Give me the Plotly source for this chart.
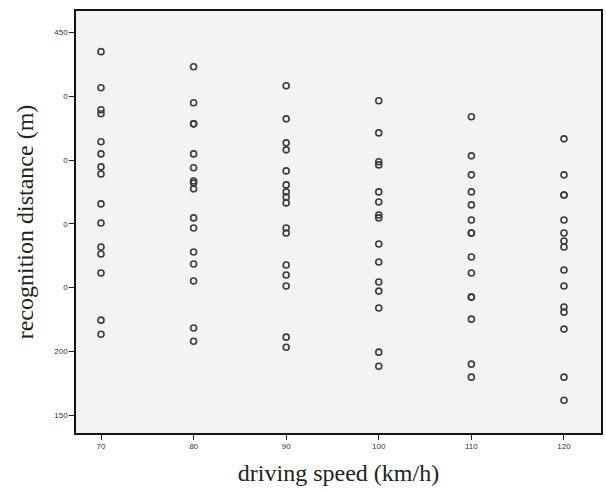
import plotly.graph_objects as go

# Driving speed groups (km/h)
speeds = [70, 80, 90, 100, 110, 120]

# Recognition distance (m) observed at each driving speed
dist_70 = [435.1, 406.8, 389.5, 386.4, 364.4, 354.9, 344.7, 339.2, 315.7,
           300.7, 281.9, 276.4, 261.5, 224.5, 213.5]
dist_80 = [423.3, 395.0, 378.5, 378.5, 354.9, 344.0, 333.7, 332.0, 327.5,
           304.7, 296.8, 278.0, 268.5, 255.2, 218.3, 208.0]
dist_90 = [408.4, 382.4, 363.6, 358.1, 341.6, 330.6, 325.1, 321.2, 316.5,
           296.8, 292.9, 267.8, 259.9, 251.3, 211.2, 203.3]
dist_100 = [396.6, 371.4, 348.7, 346.3, 325.1, 317.2, 307.0, 304.7, 284.2,
            270.1, 254.4, 247.3, 234.0, 199.4, 188.4]
dist_110 = [384.0, 353.4, 338.5, 325.1, 314.9, 303.1, 292.9, 292.9, 274.0,
            261.5, 242.6, 242.6, 225.3, 190.0, 179.8]
dist_120 = [366.7, 338.5, 322.7, 322.7, 303.1, 292.9, 286.6, 281.9, 263.8,
            251.3, 234.8, 230.8, 217.5, 179.8, 161.7]

groups = [dist_70, dist_80, dist_90, dist_100, dist_110, dist_120]

# Y-axis tick positions and the labels printed beside them
y_tick_vals = [150, 200, 250, 300, 350, 400, 450]
y_tick_text = ["150", "200", "0", "0", "0", "0", "450"]

xs, ys = [], []
for s, g in zip(speeds, groups):
    xs.extend([s] * len(g))
    ys.extend(g)

fig = go.Figure()
fig.add_trace(go.Scatter(
    x=xs, y=ys, mode="markers",
    marker=dict(symbol="circle-open", size=6, color="#3a3a3a",
                line=dict(width=1.6, color="#3a3a3a")),
    showlegend=False,
))

serif = "Liberation Serif, Times New Roman, serif"
sans = "Liberation Sans, Arial, sans-serif"

fig.update_layout(
    width=606, height=492,
    margin=dict(l=76, r=3, t=11, b=59),
    paper_bgcolor="white",
    plot_bgcolor="#f3f3f3",
    xaxis=dict(
        range=[67.3, 124.0],
        tickvals=speeds,
        ticktext=[str(s) for s in speeds],
        ticks="outside", ticklen=5, tickwidth=1, tickcolor="#222",
        tickfont=dict(family=sans, size=8, color="#333"),
        showgrid=False, zeroline=False,
        showline=True, linecolor="#111", linewidth=1.5, mirror=True,
        title=dict(text="driving speed (km/h)",
                   font=dict(family=serif, size=24, color="#222"),
                   standoff=14),
    ),
    yaxis=dict(
        range=[136, 467],
        tickvals=y_tick_vals,
        ticktext=y_tick_text,
        ticks="outside", ticklen=5, tickwidth=1, tickcolor="#222",
        tickfont=dict(family=sans, size=8, color="#333"),
        showgrid=False, zeroline=False,
        showline=True, linecolor="#111", linewidth=1.5, mirror=True,
        title=dict(text="recognition distance (m)",
                   font=dict(family=serif, size=24, color="#222"),
                   standoff=14),
    ),
)

fig.write_html("out.html")
